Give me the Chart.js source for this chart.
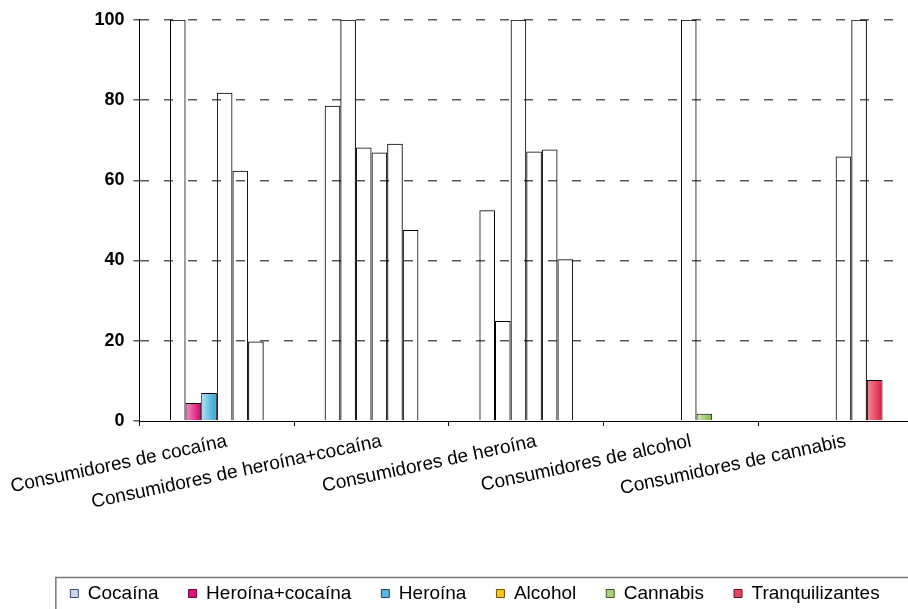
<!DOCTYPE html>
<html>
<head>
<meta charset="utf-8">
<script src="https://cdn.jsdelivr.net/npm/chart.js@4.4.1/dist/chart.umd.min.js"></script>
<style>
  html, body { margin: 0; padding: 0; background: #fff; overflow: hidden; }
  canvas { display: block; }
</style>
</head>
<body>
<canvas id="chart" width="913" height="613" style="width:913px;height:613px"></canvas>
<script>
// categories (groups on the x axis)
const categories = [
  'Consumidores de cocaína',
  'Consumidores de heroína+cocaína',
  'Consumidores de heroína',
  'Consumidores de alcohol',
  'Consumidores de cannabis'
];

// series names (legend)
const seriesNames = ['Cocaína', 'Heroína+cocaína', 'Heroína', 'Alcohol', 'Cannabis', 'Tranquilizantes'];

// values (%)
const cocaina         = [100, 78.6, 52.5, 0, 0];
const heroinaCocaina  = [4.5, 100, 24.9, 0, 0];
const heroina         = [7.0, 68.2, 100, 0, 0];
const alcohol         = [81.8, 66.9, 67.2, 100, 65.9];
const cannabis        = [62.4, 69.1, 67.7, 1.8, 100];
const tranquilizantes = [19.8, 47.6, 40.3, 0, 10.2];

const yTicks = [0, 20, 40, 60, 80, 100];

// styles: gradient ends (light, dark), legend swatch, swatch border
const gradients = [
  ['#e6eef9', '#a8bee2'],
  ['#f590c2', '#d4006c'],
  ['#b4e1f5', '#2aa2d2'],
  ['#ffe38a', '#f4ae00'],
  ['#d8ebb2', '#78b446'],
  ['#f68c9a', '#da1e3c']
];
const swatch = ['#c8d7ef', '#e2137f', '#52b7e1', '#fcc31c', '#aad17c', '#e8465c'];
const swatchBorder = ['#3c4c68', '#5c0032', '#1c4a62', '#6a5200', '#3c5c22', '#621222'];

const allSeries = [cocaina, heroinaCocaina, heroina, alcohol, cannabis, tranquilizantes];

// tall bars come out without fill in the original, short ones keep the gradient
const barFill = {
  id: 'barFill',
  beforeDatasetsDraw(chart) {
    const ctx = chart.ctx;
    chart.data.datasets.forEach((ds, di) => {
      chart.getDatasetMeta(di).data.forEach((bar, i) => {
        const v = ds.data[i];
        if (v >= 15) {
          bar.options.backgroundColor = 'rgba(255,255,255,0)';
          return;
        }
        const g = ctx.createLinearGradient(bar.x - bar.width / 2, 0, bar.x + bar.width / 2, 0);
        g.addColorStop(0, gradients[di][0]);
        g.addColorStop(1, gradients[di][1]);
        bar.options.backgroundColor = g;
      });
    });
  }
};

// frame round the legend
const legendFrame = {
  id: 'legendFrame',
  afterDraw(chart) {
    const boxes = chart.legend.legendHitBoxes;
    if (!boxes || !boxes.length) return;
    const first = boxes[0];
    const cy = first.top + first.height / 2;
    const ctx = chart.ctx;
    ctx.save();
    ctx.strokeStyle = '#777';
    ctx.lineWidth = 1.5;
    ctx.strokeRect(first.left - 14.5, cy - 16, chart.width + 20, 60);
    ctx.restore();
  }
};

new Chart(document.getElementById('chart'), {
  type: 'bar',
  data: {
    labels: categories,
    datasets: allSeries.map((values, i) => ({
      label: seriesNames[i],
      data: values,
      borderColor: '#000',
      borderWidth: c => (c.raw ? 1 : 0),
      categoryPercentage: 0.606,
      barPercentage: 1.0
    }))
  },
  options: {
    responsive: false,
    animation: false,
    layout: { padding: { left: 37, right: 0, top: 18, bottom: 0 } },
    plugins: {
      tooltip: { enabled: false },
      legend: {
        position: 'bottom',
        labels: {
          color: '#000',
          font: { family: 'Liberation Sans', size: 19 },
          boxWidth: 8,
          boxHeight: 8,
          padding: 30,
          generateLabels: chart => chart.data.datasets.map((ds, i) => ({
            text: ds.label,
            fillStyle: swatch[i],
            strokeStyle: swatchBorder[i],
            lineWidth: 1,
            hidden: false,
            datasetIndex: i,
            fontColor: '#000'
          }))
        }
      }
    },
    scales: {
      x: {
        grid: {
          display: true,
          drawOnChartArea: false,
          drawTicks: true,
          tickLength: 5,
          tickColor: '#000',
          offset: true
        },
        border: { display: true, color: '#000', width: 1 },
        ticks: {
          color: '#000',
          font: { family: 'Liberation Sans', size: 19 },
          minRotation: 12,
          maxRotation: 12,
          autoSkip: false,
          padding: 4,
          labelOffset: 10
        },
        afterFit: s => {
          s.height = 133;
          s.paddingLeft = 0;
          s.paddingRight = 0;
        }
      },
      y: {
        min: 0,
        max: 100,
        afterBuildTicks: s => { s.ticks = yTicks.map(v => ({ value: v })); },
        grid: {
          // the zero line is the solid x axis, so no dashed line there
          color: c => (c.tick && c.tick.value === 0 ? 'rgba(0,0,0,0)' : '#5a5a5a'),
          lineWidth: 1.5,
          drawTicks: true,
          tickLength: 6,
          tickColor: '#5a5a5a',
          tickBorderDash: []
        },
        border: { display: true, color: '#000', width: 1, dash: [9, 15] },
        ticks: {
          color: '#000',
          font: { family: 'Liberation Sans', size: 18, weight: 'bold' },
          padding: 9
        },
        afterFit: s => { s.width = 102.5; }
      }
    }
  },
  plugins: [barFill, legendFrame]
});
</script>
</body>
</html>
